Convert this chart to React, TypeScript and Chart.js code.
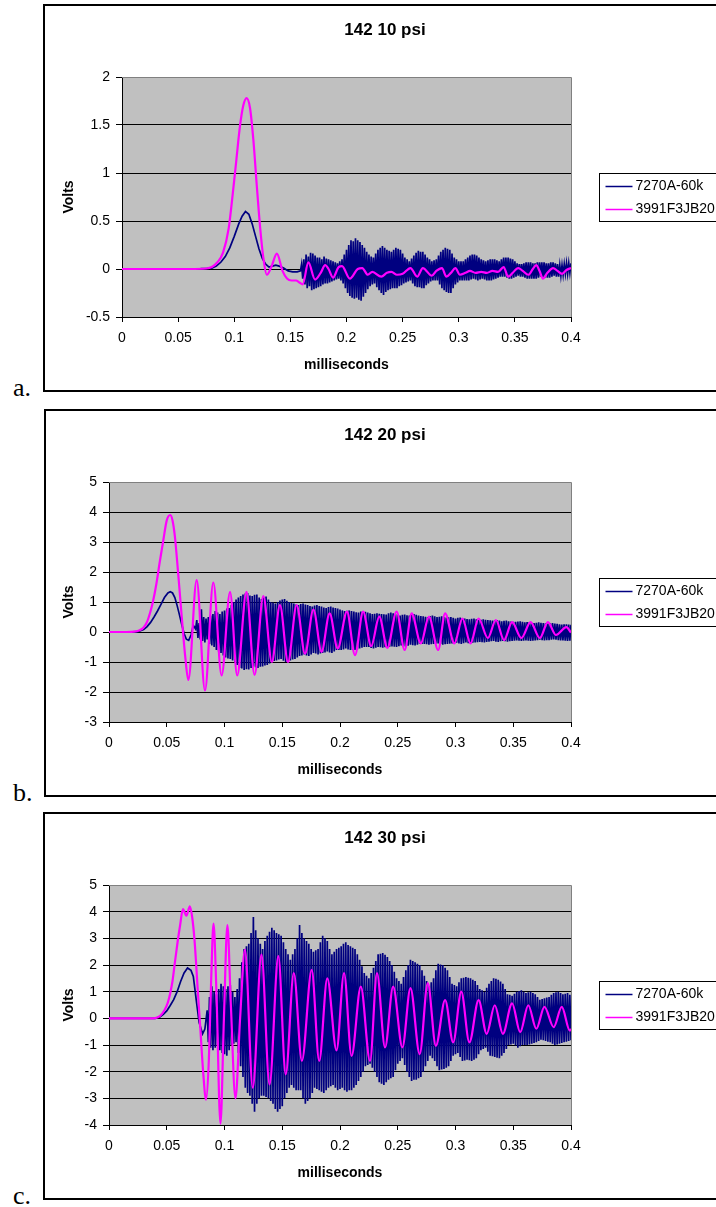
import React, { useEffect, useRef } from 'react';
import { Chart, registerables } from 'chart.js';

Chart.register(...registerables);

type Pt = [number, number];

const FONT = "'Liberation Sans', Arial, Helvetica, sans-serif";
const SERIF = "'Liberation Serif', 'Times New Roman', serif";
const NAVY = '#000080';
const MAGENTA = '#FF00FF';

const SERIES_LABELS = ['7270A-60k', '3991F3JB20'];
const TITLES = ['142 10 psi', '142 20 psi', '142 30 psi'];
const LETTERS = ['a.', 'b.', 'c.'];
const X_TITLE = 'milliseconds';
const Y_TITLE = 'Volts';

const X_TICKS = [0, 0.05, 0.1, 0.15, 0.2, 0.25, 0.3, 0.35, 0.4];
const X_TICK_LABELS = ['0', '0.05', '0.1', '0.15', '0.2', '0.25', '0.3', '0.35', '0.4'];
const A_Y_TICKS = [-0.5, 0, 0.5, 1, 1.5, 2];
const A_Y_LABELS = ['-0.5', '0', '0.5', '1', '1.5', '2'];
const B_Y_TICKS = [-3, -2, -1, 0, 1, 2, 3, 4, 5];
const B_Y_LABELS = ['-3', '-2', '-1', '0', '1', '2', '3', '4', '5'];
const C_Y_TICKS = [-4, -3, -2, -1, 0, 1, 2, 3, 4, 5];
const C_Y_LABELS = ['-4', '-3', '-2', '-1', '0', '1', '2', '3', '4', '5'];

// sample interval (ms) of the noisy part of the 7270A-60k records
const NOISE_STEP = 0.001;

// ---------- chart a : 142 10 psi ----------
const A_NAVY_PULSE: Pt[] = [
  [0, 0], [0.02, 0], [0.04, 0], [0.06, 0.001], [0.07, 0.003], [0.076, 0.006], [0.08, 0.01],
  [0.084, 0.03], [0.088, 0.07], [0.092, 0.13], [0.096, 0.22], [0.1, 0.34], [0.104, 0.47],
  [0.107, 0.55], [0.11, 0.6], [0.113, 0.57], [0.116, 0.47], [0.119, 0.34], [0.122, 0.21],
  [0.125, 0.11], [0.128, 0.05], [0.131, 0.02], [0.134, 0.03], [0.137, 0.04], [0.14, 0.03],
  [0.144, 0.01], [0.148, -0.02], [0.152, -0.03], [0.156, -0.03], [0.159, -0.02],
];
const A_NAVY_NOISE_START = 0.16;
const A_NAVY_NOISE = [
  0.05, -0.1, 0.1, -0.16, 0.15, -0.2, 0.13, -0.18, 0.17, -0.22, 0.16, -0.21, 0.14, -0.2, 0.12, -0.19,
  0.12, -0.18, 0.1, -0.16, 0.13, -0.15, 0.11, -0.15, 0.1, -0.14, 0.09, -0.13, 0.08, -0.12, 0.07, -0.11,
  0.06, -0.1, 0.08, -0.12, 0.1, -0.15, 0.15, -0.2, 0.2, -0.25, 0.25, -0.28, 0.3, -0.3, 0.29, -0.31,
  0.32, -0.3, 0.3, -0.32, 0.28, -0.33, 0.25, -0.29, 0.22, -0.25, 0.18, -0.21, 0.15, -0.18, 0.13, -0.16,
  0.12, -0.15, 0.16, -0.19, 0.2, -0.22, 0.22, -0.25, 0.24, -0.27, 0.22, -0.24, 0.2, -0.22, 0.19, -0.21,
  0.18, -0.2, 0.2, -0.2, 0.22, -0.2, 0.21, -0.18, 0.2, -0.17, 0.16, -0.15, 0.12, -0.14, 0.1, -0.13,
  0.08, -0.12, 0.11, -0.15, 0.14, -0.18, 0.17, -0.19, 0.19, -0.19, 0.18, -0.2, 0.18, -0.2, 0.15, -0.17,
  0.12, -0.15, 0.1, -0.13, 0.08, -0.12, 0.09, -0.12, 0.1, -0.12, 0.14, -0.16, 0.18, -0.2, 0.2, -0.22,
  0.22, -0.24, 0.21, -0.25, 0.2, -0.25, 0.16, -0.2, 0.12, -0.16, 0.1, -0.14, 0.08, -0.12, 0.08, -0.12,
  0.08, -0.12, 0.1, -0.12, 0.12, -0.12, 0.14, -0.11, 0.15, -0.1, 0.15, -0.11, 0.14, -0.12, 0.12, -0.11,
  0.1, -0.1, 0.09, -0.11, 0.08, -0.12, 0.09, -0.12, 0.1, -0.12, 0.1, -0.11, 0.1, -0.1, 0.09, -0.09,
  0.08, -0.08, 0.1, -0.08, 0.12, -0.08, 0.12, -0.09, 0.12, -0.1, 0.11, -0.1, 0.1, -0.09, 0.08, -0.08,
  0.06, -0.07, 0.05, -0.08, 0.05, -0.08, 0.06, -0.09, 0.07, -0.1, 0.07, -0.1, 0.07, -0.1, 0.06, -0.1,
  0.06, -0.1, 0.07, -0.09, 0.07, -0.08, 0.07, -0.09, 0.07, -0.09, 0.06, -0.09, 0.06, -0.09, 0.07, -0.08,
  0.07, -0.07, 0.06, -0.08, 0.05, -0.08, 0.04, -0.07, 0.04, -0.06, 0.05, -0.05, 0.06, -0.05, 0.06, -0.04,
  0.06, -0.03,
];
const A_MAGENTA: Pt[] = [
  [0, 0], [0.03, 0], [0.06, 0], [0.075, 0.005], [0.08, 0.02], [0.085, 0.07], [0.09, 0.17], [0.095, 0.42],
  [0.099, 0.82], [0.102, 1.15], [0.105, 1.48], [0.108, 1.7], [0.111, 1.78], [0.114, 1.68], [0.117, 1.35],
  [0.12, 0.88], [0.123, 0.44], [0.126, 0.11], [0.129, -0.06], [0.133, 0.02], [0.138, 0.16], [0.143, -0.02],
  [0.147, -0.1], [0.151, -0.12], [0.155, -0.12], [0.158, -0.14], [0.161, -0.16], [0.166, 0.07], [0.172, -0.11],
  [0.177, -0.04], [0.181, 0.04], [0.184, 0.0], [0.188, -0.09], [0.193, 0.02], [0.196, 0.03], [0.203, -0.1],
  [0.21, 0.0], [0.214, 0.01], [0.219, -0.06], [0.223, -0.03], [0.231, -0.08], [0.236, -0.04], [0.24, -0.03],
  [0.245, -0.06], [0.25, -0.05], [0.257, 0.01], [0.263, -0.08], [0.268, 0.01], [0.276, -0.07], [0.28, -0.02],
  [0.285, 0.01], [0.289, -0.08], [0.293, -0.04], [0.297, 0.01], [0.301, -0.06], [0.306, -0.04], [0.31, -0.02],
  [0.315, -0.04], [0.32, -0.03], [0.325, -0.04], [0.33, -0.02], [0.335, -0.03], [0.34, 0.02], [0.344, -0.08],
  [0.348, -0.04], [0.353, 0.01], [0.357, -0.02], [0.362, -0.06], [0.366, 0.0], [0.369, 0.04], [0.372, -0.02],
  [0.375, -0.1], [0.379, -0.04], [0.384, 0.01], [0.388, -0.02], [0.392, -0.05], [0.396, -0.01], [0.4, 0.01],
];

// ---------- chart b : 142 20 psi ----------
const B_NAVY_PULSE: Pt[] = [
  [0, 0], [0.01, 0], [0.02, 0.001], [0.025, 0.01], [0.03, 0.08], [0.033, 0.18], [0.036, 0.32], [0.039, 0.5],
  [0.042, 0.7], [0.045, 0.92], [0.048, 1.15], [0.051, 1.3], [0.053, 1.34], [0.055, 1.3], [0.057, 1.15],
  [0.059, 0.88], [0.061, 0.57], [0.063, 0.25], [0.065, -0.05], [0.067, -0.24], [0.069, -0.28], [0.071, -0.1],
  [0.073, 0.22], [0.075, 0.1],
];
const B_NAVY_NOISE_START = 0.076;
const B_NAVY_NOISE = [
  0.4, -0.2, 0.3, -0.25, 0.76, -0.3, 0.5, -0.35, 0.45, -0.25, 0.5, -0.4, 0.55, -0.45, 0.6, -0.5,
  0.7, -0.6, 0.65, -0.65, 0.6, -0.7, 0.68, -0.78, 0.72, -0.85, 0.78, -0.88, 0.8, -0.9, 0.9, -0.95,
  1.0, -1.0, 1.08, -1.1, 1.15, -1.2, 1.2, -1.22, 1.25, -1.27, 1.28, -1.24, 1.3, -1.25, 1.22, -1.2,
  1.2, -1.15, 1.24, -1.18, 1.25, -1.2, 1.15, -1.16, 1.1, -1.15, 1.15, -1.12, 1.18, -1.1, 1.08, -1.05,
  1.0, -1.0, 0.98, -0.97, 0.95, -0.95, 1.0, -0.92, 1.05, -0.9, 1.08, -0.96, 1.1, -1.0, 1.04, -0.98,
  1.0, -0.95, 0.97, -0.92, 0.95, -0.9, 0.92, -0.85, 0.9, -0.8, 0.93, -0.78, 0.95, -0.75, 0.92, -0.78,
  0.9, -0.8, 0.87, -0.75, 0.85, -0.7, 0.88, -0.72, 0.9, -0.75, 0.87, -0.72, 0.85, -0.7, 0.82, -0.68,
  0.8, -0.65, 0.83, -0.68, 0.85, -0.7, 0.82, -0.65, 0.8, -0.6, 0.78, -0.6, 0.75, -0.6, 0.72, -0.58,
  0.7, -0.55, 0.71, -0.58, 0.72, -0.6, 0.7, -0.6, 0.68, -0.6, 0.66, -0.58, 0.65, -0.55, 0.68, -0.52,
  0.7, -0.5, 0.67, -0.5, 0.65, -0.5, 0.62, -0.53, 0.6, -0.55, 0.61, -0.52, 0.62, -0.5, 0.61, -0.51,
  0.6, -0.52, 0.59, -0.51, 0.58, -0.5, 0.62, -0.49, 0.65, -0.48, 0.62, -0.49, 0.6, -0.5, 0.57, -0.47,
  0.55, -0.45, 0.57, -0.48, 0.58, -0.5, 0.56, -0.46, 0.55, -0.42, 0.58, -0.44, 0.6, -0.45, 0.57, -0.42,
  0.55, -0.4, 0.53, -0.4, 0.52, -0.4, 0.51, -0.41, 0.5, -0.42, 0.53, -0.41, 0.55, -0.4, 0.52, -0.39,
  0.5, -0.38, 0.51, -0.4, 0.52, -0.42, 0.5, -0.41, 0.48, -0.4, 0.49, -0.39, 0.5, -0.38, 0.47, -0.37,
  0.45, -0.36, 0.47, -0.38, 0.48, -0.4, 0.46, -0.37, 0.45, -0.35, 0.43, -0.37, 0.42, -0.38, 0.44, -0.36,
  0.45, -0.35, 0.42, -0.34, 0.4, -0.33, 0.41, -0.34, 0.42, -0.35, 0.41, -0.33, 0.4, -0.32, 0.39, -0.31,
  0.38, -0.3, 0.39, -0.32, 0.4, -0.33, 0.38, -0.31, 0.36, -0.3, 0.37, -0.31, 0.38, -0.32, 0.36, -0.31,
  0.35, -0.3, 0.34, -0.29, 0.34, -0.28, 0.35, -0.29, 0.36, -0.3, 0.34, -0.29, 0.32, -0.28, 0.33, -0.29,
  0.33, -0.3, 0.31, -0.29, 0.3, -0.28, 0.31, -0.27, 0.32, -0.26, 0.31, -0.27, 0.3, -0.28, 0.29, -0.27,
  0.28, -0.27, 0.29, -0.26, 0.3, -0.25, 0.28, -0.26, 0.27, -0.27, 0.26, -0.28, 0.25, -0.28, 0.26, -0.29,
  0.26, -0.3, 0.25, -0.29, 0.24, -0.28,
];
const B_MAGENTA: Pt[] = [
  [0, 0], [0.015, 0], [0.022, 0.01], [0.026, 0.05], [0.03, 0.15], [0.033, 0.34], [0.036, 0.7], [0.038, 1.0],
  [0.041, 1.6], [0.044, 2.35], [0.047, 3.05], [0.05, 3.72], [0.053, 3.9], [0.055, 3.72], [0.057, 3.2],
  [0.06, 1.9], [0.063, 0.5], [0.066, -0.82], [0.0687, -1.6], [0.0759, 1.73], [0.0831, -1.95], [0.0903, 1.65],
  [0.0975, -1.45], [0.1048, 1.34], [0.111, -1.45], [0.119, 1.34], [0.126, -1.43], [0.1336, 1.2], [0.141, -1.0],
  [0.148, 0.9], [0.155, -1.0], [0.1625, 0.9], [0.1697, -0.72], [0.177, 0.75], [0.184, -0.66], [0.191, 0.62],
  [0.198, -0.55], [0.206, 0.68], [0.213, -0.77], [0.22, 0.68], [0.227, -0.47], [0.234, 0.51], [0.241, -0.53],
  [0.249, 0.68], [0.256, -0.6], [0.262, 0.62], [0.27, -0.38], [0.277, 0.51], [0.285, -0.6], [0.291, 0.62],
  [0.299, -0.38], [0.306, 0.45], [0.313, -0.38], [0.32, 0.45], [0.328, -0.2], [0.335, 0.4], [0.342, -0.27],
  [0.349, 0.33], [0.357, -0.2], [0.365, 0.33], [0.373, -0.2], [0.38, 0.33], [0.387, -0.1], [0.396, 0.16],
  [0.4, -0.02],
];

// ---------- chart c : 142 30 psi ----------
const C_NAVY_PULSE: Pt[] = [
  [0, 0], [0.02, 0], [0.04, 0], [0.044, 0.05], [0.047, 0.15], [0.05, 0.28], [0.053, 0.48], [0.056, 0.7],
  [0.059, 1.0], [0.062, 1.38], [0.065, 1.7], [0.068, 1.89], [0.071, 1.8], [0.073, 1.57], [0.0755, 0.7],
  [0.078, -0.15], [0.081, -0.58], [0.083, -0.4],
];
const C_NAVY_NOISE_START = 0.085;
const C_NAVY_NOISE = [
  0.3, -0.9, 0.8, -1.1, 1.2, -1.2, 1.0, -1.1, 0.9, -1.0, 1.1, -1.2, 1.3, -1.3, 1.2, -1.35,
  1.1, -1.4, 1.2, -1.2, 1.25, -1.0, 1.0, -0.95, 0.8, -0.9, 1.1, -1.3, 1.5, -1.8, 2.1, -2.2,
  2.6, -2.6, 2.7, -2.8, 2.8, -2.9, 3.2, -3.2, 3.8, -3.5, 3.3, -3.2, 3.0, -3.0, 2.8, -2.9,
  2.6, -2.9, 2.9, -2.95, 3.1, -3.0, 3.25, -3.1, 3.4, -3.2, 3.3, -3.4, 3.2, -3.5, 3.15, -3.4,
  3.1, -3.3, 2.85, -3.0, 2.6, -2.8, 2.4, -2.6, 2.2, -2.5, 2.4, -2.6, 2.6, -2.7, 3.0, -2.7,
  3.5, -2.7, 3.2, -3.0, 3.0, -3.2, 2.9, -3.1, 2.8, -3.0, 2.6, -2.8, 2.5, -2.6, 2.55, -2.65,
  2.6, -2.7, 2.85, -2.75, 3.1, -2.8, 3.0, -2.7, 2.9, -2.6, 2.6, -2.55, 2.4, -2.5, 2.5, -2.6,
  2.6, -2.7, 2.65, -2.65, 2.7, -2.6, 2.8, -2.7, 2.85, -2.75, 2.75, -2.7, 2.7, -2.7, 2.65, -2.6,
  2.6, -2.5, 2.4, -2.35, 2.2, -2.2, 1.95, -2.0, 1.7, -1.8, 1.6, -1.75, 1.5, -1.7, 1.7, -1.85,
  1.9, -2.0, 2.15, -2.2, 2.4, -2.4, 2.42, -2.45, 2.45, -2.5, 2.38, -2.4, 2.3, -2.3, 2.15, -2.25,
  2.0, -2.2, 1.75, -1.95, 1.5, -1.7, 1.4, -1.6, 1.3, -1.5, 1.55, -1.75, 1.8, -2.0, 2.0, -2.2,
  2.2, -2.35, 2.15, -2.3, 2.1, -2.3, 2.05, -2.25, 2.0, -2.2, 1.8, -2.0, 1.6, -1.8, 1.4, -1.6,
  1.2, -1.4, 1.35, -1.5, 1.5, -1.6, 1.8, -1.8, 2.05, -1.95, 2.02, -1.92, 2.0, -1.9, 1.9, -1.85,
  1.8, -1.8, 1.55, -1.6, 1.3, -1.4, 1.25, -1.35, 1.2, -1.3, 1.35, -1.45, 1.5, -1.6, 1.52, -1.58,
  1.55, -1.55, 1.52, -1.57, 1.5, -1.6, 1.45, -1.55, 1.4, -1.5, 1.25, -1.35, 1.1, -1.2, 1.05, -1.15,
  1.0, -1.1, 1.15, -1.25, 1.3, -1.4, 1.4, -1.42, 1.5, -1.45, 1.48, -1.48, 1.45, -1.5, 1.38, -1.4,
  1.3, -1.3, 1.1, -1.15, 0.9, -1.0, 0.88, -0.98, 0.85, -0.95, 0.92, -1.02, 1.0, -1.1, 1.02, -1.05,
  1.05, -1.0, 1.0, -1.0, 0.95, -1.0, 0.98, -0.98, 1.0, -0.95, 0.95, -0.92, 0.9, -0.9, 0.8, -0.85,
  0.7, -0.8, 0.72, -0.82, 0.75, -0.85, 0.78, -0.88, 0.8, -0.9, 0.88, -0.95, 0.95, -1.0, 0.98, -0.98,
  1.0, -0.95, 0.95, -0.92, 0.9, -0.9, 0.92, -0.88, 0.95, -0.85, 0.88, -0.82, 0.8, -0.8,
];
const C_MAGENTA: Pt[] = [
  [0, 0], [0.035, 0], [0.04, 0.01], [0.044, 0.08], [0.048, 0.3], [0.051, 0.6], [0.053, 0.94], [0.055, 1.4],
  [0.057, 2.08], [0.0595, 2.9], [0.0615, 3.47], [0.064, 4.1], [0.067, 3.85], [0.07, 4.2], [0.072, 3.8],
  [0.074, 2.96], [0.0755, 2.0], [0.077, 0.94], [0.079, -0.33], [0.0815, -2.0], [0.084, -3.05], [0.0865, -1.5],
  [0.0885, 1.5], [0.0905, 3.55], [0.093, 1.0], [0.0965, -3.95], [0.0995, 0.0], [0.1025, 3.5], [0.1055, 0.5],
  [0.1095, -3.0], [0.1135, 0.0], [0.1177, 2.58], [0.1245, -2.6], [0.132, 2.39], [0.139, -2.48], [0.1466, 2.33],
  [0.153, -2.1], [0.16, 1.7], [0.167, -1.6], [0.1755, 1.82], [0.182, -1.6], [0.189, 1.5], [0.197, -1.2],
  [0.2035, 1.7], [0.21, -1.41], [0.218, 1.19], [0.226, -1.6], [0.232, 1.7], [0.239, -1.09], [0.246, 1.19],
  [0.254, -1.09], [0.261, 1.13], [0.269, -1.34], [0.276, 1.32], [0.283, -1.03], [0.291, 0.68], [0.298, -0.9],
  [0.305, 1.0], [0.312, -0.9], [0.32, 0.68], [0.327, -0.58], [0.334, 0.49], [0.341, -0.58], [0.349, 0.56],
  [0.356, -0.52], [0.363, 0.49], [0.37, -0.39], [0.377, 0.43], [0.385, -0.33], [0.392, 0.43], [0.399, -0.46],
  [0.4, -0.4],
];

function toPoints(pulse: Pt[], noiseStart?: number, noise?: number[]) {
  const pts = pulse.map(([x, y]) => ({ x, y }));
  if (noise && noiseStart !== undefined) {
    noise.forEach((y, i) => pts.push({ x: +(noiseStart + i * NOISE_STEP).toFixed(4), y }));
  }
  return pts;
}

const CANVAS_W = 684;
const CANVAS_H = 387;

const plotBg = {
  id: 'plotBg',
  beforeDraw(chart: any) {
    const { ctx, chartArea: a } = chart;
    ctx.save();
    ctx.fillStyle = '#C0C0C0';
    ctx.fillRect(a.left, a.top, a.right - a.left, a.bottom - a.top);
    ctx.restore();
  },
  beforeDatasetsDraw(chart: any) {
    const { ctx, chartArea: a } = chart;
    ctx.save();
    ctx.strokeStyle = '#808080';
    ctx.lineWidth = 1;
    ctx.beginPath();
    ctx.moveTo(Math.round(a.left), Math.round(a.top) + 0.5);
    ctx.lineTo(Math.round(a.right) + 0.5, Math.round(a.top) + 0.5);
    ctx.lineTo(Math.round(a.right) + 0.5, Math.round(a.bottom));
    ctx.stroke();
    ctx.restore();
  },
};

const boxLegend = {
  id: 'boxLegend',
  afterDraw(chart: any) {
    const { ctx, chartArea: a } = chart;
    const mid = (a.top + a.bottom) / 2;
    const top = Math.round(mid - 24) + 0.5;
    const left = Math.round(a.right) + 28.5;
    ctx.save();
    ctx.fillStyle = '#FFFFFF';
    ctx.fillRect(left, top, 220, 48);
    ctx.strokeStyle = '#000';
    ctx.lineWidth = 1;
    ctx.strokeRect(left, top, 220, 48);
    ctx.font = `14px ${FONT}`;
    ctx.textBaseline = 'middle';
    ctx.textAlign = 'left';
    chart.data.datasets.forEach((ds: any, i: number) => {
      const y = Math.round(top + 12 + i * 23.5) + 0.5;
      ctx.strokeStyle = ds.borderColor;
      ctx.lineWidth = 1.5;
      ctx.beginPath();
      ctx.moveTo(left + 6, y);
      ctx.lineTo(left + 33, y);
      ctx.stroke();
      ctx.fillStyle = '#000';
      ctx.fillText(ds.label, left + 36, y);
    });
    ctx.restore();
  },
};

interface PanelProps {
  top: number;
  boxLeft: number;
  letter: string;
  title: string;
  yTicks: number[];
  yLabels: string[];
  yAxisWidth: number;
  navy: { x: number; y: number }[];
  magenta: { x: number; y: number }[];
}

function Panel(p: PanelProps) {
  const ref = useRef<HTMLCanvasElement>(null);
  useEffect(() => {
    const tickFont = { family: FONT, size: 14 };
    const titleFont = { family: FONT, size: 14, weight: 'bold' as const };
    const chart = new Chart(ref.current as HTMLCanvasElement, {
      type: 'line',
      data: {
        datasets: [
          {
            label: SERIES_LABELS[0],
            data: p.navy,
            borderColor: NAVY,
            backgroundColor: NAVY,
            borderWidth: 1.7,
            pointRadius: 0,
            tension: 0,
            order: 2,
          },
          {
            label: SERIES_LABELS[1],
            data: p.magenta,
            borderColor: MAGENTA,
            backgroundColor: MAGENTA,
            borderWidth: 2.2,
            pointRadius: 0,
            cubicInterpolationMode: 'monotone',
            order: 1,
          },
        ],
      },
      options: {
        animation: false,
        responsive: false,
        devicePixelRatio: 1,
        events: [],
        layout: { padding: { left: 0, right: 0, top: 0, bottom: 0 } },
        plugins: {
          legend: { display: false },
          tooltip: { enabled: false },
          title: {
            display: true,
            text: p.title,
            color: '#000',
            font: { family: FONT, size: 17, weight: 'bold' },
            padding: { top: 15.8, bottom: 36.8 },
          },
        },
        scales: {
          x: {
            type: 'linear',
            min: 0,
            max: 0.4,
            afterBuildTicks: (s: any) => {
              s.ticks = X_TICKS.map((v) => ({ value: v }));
            },
            afterFit: (s: any) => {
              s.height = 74;
            },
            ticks: {
              autoSkip: false,
              maxRotation: 0,
              color: '#000',
              font: tickFont,
              padding: 7.6,
              callback: (_v: any, i: number) => X_TICK_LABELS[i],
            },
            grid: { drawOnChartArea: false, drawTicks: true, tickLength: 5, color: '#000', lineWidth: 1 },
            border: { display: true, color: '#000', width: 1 },
            title: { display: true, text: X_TITLE, color: '#000', font: titleFont, padding: { top: 0, bottom: 17.6 } },
          },
          y: {
            type: 'linear',
            min: p.yTicks[0],
            max: p.yTicks[p.yTicks.length - 1],
            afterBuildTicks: (s: any) => {
              s.ticks = p.yTicks.map((v) => ({ value: v }));
            },
            afterFit: (s: any) => {
              s.width = p.yAxisWidth;
            },
            ticks: {
              autoSkip: false,
              color: '#000',
              font: tickFont,
              padding: 6,
              callback: (_v: any, i: number) => p.yLabels[i],
            },
            grid: { drawOnChartArea: true, drawTicks: true, tickLength: 6, color: '#000', lineWidth: 1 },
            border: { display: true, color: '#000', width: 1 },
            title: { display: true, text: Y_TITLE, color: '#000', font: titleFont, padding: { top: 17.6, bottom: 0 } },
          },
          legendSpace: {
            type: 'linear',
            position: 'right',
            display: true,
            ticks: { display: false },
            grid: { display: false },
            border: { display: false },
            afterFit: (s: any) => {
              s.width = CANVAS_W - 528;
            },
          },
        },
      },
      plugins: [plotBg, boxLegend],
    } as any);
    return () => chart.destroy();
  }, []);

  return (
    <>
      <div
        style={{
          position: 'absolute',
          left: p.boxLeft,
          top: p.top,
          width: 720,
          height: 388,
          border: '2px solid #000',
          boxSizing: 'border-box',
        }}
      />
      <canvas
        ref={ref}
        width={CANVAS_W}
        height={CANVAS_H}
        style={{ position: 'absolute', left: 43, top: p.top, width: CANVAS_W, height: CANVAS_H }}
      />
      <div
        style={{
          position: 'absolute',
          left: 13,
          top: p.top + 371,
          fontFamily: SERIF,
          fontSize: 26,
          lineHeight: 1,
          color: '#000',
        }}
      >
        {p.letter}
      </div>
    </>
  );
}

export default function App() {
  const aNavy = toPoints(A_NAVY_PULSE, A_NAVY_NOISE_START, A_NAVY_NOISE);
  const bNavy = toPoints(B_NAVY_PULSE, B_NAVY_NOISE_START, B_NAVY_NOISE);
  const cNavy = toPoints(C_NAVY_PULSE, C_NAVY_NOISE_START, C_NAVY_NOISE);
  return (
    <div
      style={{
        position: 'absolute',
        left: 0,
        top: 0,
        width: 716,
        height: 1207,
        overflow: 'hidden',
        background: '#fff',
      }}
    >
      <Panel top={4} boxLeft={43} letter={LETTERS[0]} title={TITLES[0]} yTicks={A_Y_TICKS} yLabels={A_Y_LABELS}
        yAxisWidth={79} navy={aNavy} magenta={toPoints(A_MAGENTA)} />
      <Panel top={409} boxLeft={44} letter={LETTERS[1]} title={TITLES[1]} yTicks={B_Y_TICKS} yLabels={B_Y_LABELS}
        yAxisWidth={66} navy={bNavy} magenta={toPoints(B_MAGENTA)} />
      <Panel top={812} boxLeft={43} letter={LETTERS[2]} title={TITLES[2]} yTicks={C_Y_TICKS} yLabels={C_Y_LABELS}
        yAxisWidth={66} navy={cNavy} magenta={toPoints(C_MAGENTA)} />
    </div>
  );
}
